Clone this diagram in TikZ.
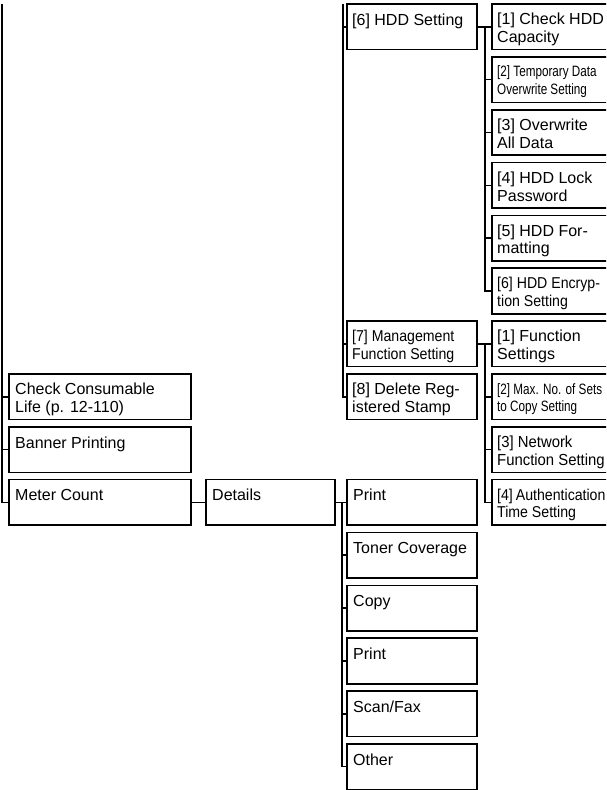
\documentclass[tikz,border=0pt]{standalone}
\usepackage{fontspec}
\setmainfont{Liberation Sans}
\newfontfamily\condA[FakeStretch=0.78]{Liberation Sans}
\newfontfamily\condB[FakeStretch=0.9]{Liberation Sans}
\newfontfamily\condC[FakeStretch=0.93]{Liberation Sans}
\begin{document}
\begin{tikzpicture}[x=1pt,y=-1pt,
  box/.style={draw, line width=1.6pt, inner sep=0pt, outer sep=0pt, anchor=north west, minimum height=45.5pt},
  midbox/.style={box, minimum width=130pt},
  rbox/.style={box, minimum width=130pt},
  lbox/.style={box, minimum width=182pt},
  dbox/.style={box, minimum width=129pt},
  lbl/.style={anchor=north west, inner sep=0pt, align=left, font=\fontsize{16}{17.7}\selectfont, execute at begin node={\rule{0pt}{12pt}}},
  clbl/.style={lbl, font=\condA\fontsize{15}{17.7}\selectfont},
  blbl/.style={lbl, font=\condB\fontsize{15.7}{17.7}\selectfont},
  nlbl/.style={lbl, font=\condC\fontsize{16}{17.7}\selectfont},
  wire/.style={line width=1.6pt}]
\clip (0,0) rectangle (606,790);
\useasboundingbox (0,0) rectangle (606,790);
\def\rowtop#1{4+52.85*#1}
% bus coordinates
\coordinate (busL) at (2,4);
\coordinate (busM) at (343,4);
\coordinate (busR) at (485,0);
\coordinate (busD) at (342,0);
% right column
\node[rbox] (r1) at (492,{\rowtop{0}}) {};
\node[rbox] (r2) at (492,{\rowtop{1}}) {};
\node[rbox] (r3) at (492,{\rowtop{2}}) {};
\node[rbox] (r4) at (492,{\rowtop{3}}) {};
\node[rbox] (r5) at (492,{\rowtop{4}}) {};
\node[rbox] (r6) at (492,{\rowtop{5}}) {};
\node[rbox] (s1) at (492,{\rowtop{6}}) {};
\node[rbox] (s2) at (492,{\rowtop{7}}) {};
\node[rbox] (s3) at (492,{\rowtop{8}}) {};
\node[rbox] (s4) at (492,{\rowtop{9}}) {};
% middle column
\node[midbox] (hdd) at (347,{\rowtop{0}}) {};
\node[midbox] (mgmt) at (347,{\rowtop{6}}) {};
\node[midbox] (del) at (347,{\rowtop{7}}) {};
% left column
\node[lbox] (check) at (9,{\rowtop{7}}) {};
\node[lbox] (banner) at (9,{\rowtop{8}}) {};
\node[lbox] (meter) at (9,{\rowtop{9}}) {};
\node[dbox] (det) at (206,{\rowtop{9}}) {};
% details children
\node[midbox] (d1) at (347,{\rowtop{9}}) {};
\node[midbox] (d2) at (347,{\rowtop{10}}) {};
\node[midbox] (d3) at (347,{\rowtop{11}}) {};
\node[midbox] (d4) at (347,{\rowtop{12}}) {};
\node[midbox] (d5) at (347,{\rowtop{13}}) {};
\node[midbox] (d6) at (347,{\rowtop{14}}) {};
% labels
\node[lbl]  (r1t) at ([shift={(5pt,-9pt)}]r1.north west) {[1] Check HDD\\Capacity};
\node[clbl] (r2t) at ([shift={(5pt,-9pt)}]r2.north west) {[2] Temporary Data\\Overwrite Setting};
\node[lbl]  (r3t) at ([shift={(5pt,-9pt)}]r3.north west) {[3] Overwrite\\All Data};
\node[lbl]  (r4t) at ([shift={(5pt,-9pt)}]r4.north west) {[4] HDD Lock\\Password};
\node[lbl]  (r5t) at ([shift={(5pt,-9pt)}]r5.north west) {[5] HDD For-\\matting};
\node[blbl] (r6t) at ([shift={(5pt,-9pt)}]r6.north west) {[6] HDD Encryp-\\tion Setting};
\node[lbl]  (s1t) at ([shift={(5pt,-9pt)}]s1.north west) {[1] Function\\Settings};
\node[clbl] (s2t) at ([shift={(5pt,-9pt)}]s2.north west) {[2] Max. No. of Sets\\to Copy Setting};
\node[nlbl] (s3t) at ([shift={(5pt,-9pt)}]s3.north west) {[3] Network\\Function Setting};
\node[blbl] (s4t) at ([shift={(5pt,-9pt)}]s4.north west) {[4]\hspace{3pt}Authentication\\Time Setting};
\node[lbl]  (hddt) at ([shift={(5pt,-9pt)}]hdd.north west) {[6] HDD Setting};
\node[blbl] (mgmtt) at ([shift={(5pt,-9pt)}]mgmt.north west) {[7] Management\\Function Setting};
\node[lbl]  (delt) at ([shift={(5pt,-9pt)}]del.north west) {[8] Delete Reg-\\istered Stamp};
\node[lbl]  (checkt) at ([shift={(6pt,-9pt)}]check.north west) {Check Consumable\\Life (p. 12-110)};
\node[lbl]  (bannert) at ([shift={(6pt,-9pt)}]banner.north west) {Banner Printing};
\node[lbl]  (metert) at ([shift={(6pt,-9pt)}]meter.north west) {Meter Count};
\node[lbl]  (dett) at ([shift={(6pt,-9pt)}]det.north west) {Details};
\node[lbl]  (d1t) at ([shift={(6pt,-9pt)}]d1.north west) {Print};
\node[lbl]  (d2t) at ([shift={(6pt,-9pt)}]d2.north west) {Toner Coverage};
\node[lbl]  (d3t) at ([shift={(6pt,-9pt)}]d3.north west) {Copy};
\node[lbl]  (d4t) at ([shift={(6pt,-9pt)}]d4.north west) {Print};
\node[lbl]  (d5t) at ([shift={(6pt,-9pt)}]d5.north west) {Scan/Fax};
\node[lbl]  (d6t) at ([shift={(6pt,-9pt)}]d6.north west) {Other};
% connectors: left bus
\draw[wire] (busL) |- (meter.west);
\draw[wire] (busL |- check.west) -- (check.west);
\draw[wire] (busL |- banner.west) -- (banner.west);
% middle bus
\draw[wire] (busM) |- (del.west);
\draw[wire] (busM |- hdd.west) -- (hdd.west);
\draw[wire] (busM |- mgmt.west) -- (mgmt.west);
% HDD setting children
\draw[wire] (hdd.east) -- (r1.west);
\draw[wire] (busR |- hdd.east) |- (r6.west);
\foreach \n in {r2,r3,r4,r5} \draw[wire] (busR |- \n.west) -- (\n.west);
% management children
\draw[wire] (mgmt.east) -- (s1.west);
\draw[wire] (busR |- mgmt.east) |- (s4.west);
\foreach \n in {s2,s3} \draw[wire] (busR |- \n.west) -- (\n.west);
% meter count -> details -> children
\draw[wire] (meter.east) -- (det.west);
\draw[wire] (det.east) -- (d1.west);
\draw[wire] (busD |- det.east) |- (d6.west);
\foreach \n in {d2,d3,d4,d5} \draw[wire] (busD |- \n.west) -- (\n.west);
\end{tikzpicture}
\end{document}
